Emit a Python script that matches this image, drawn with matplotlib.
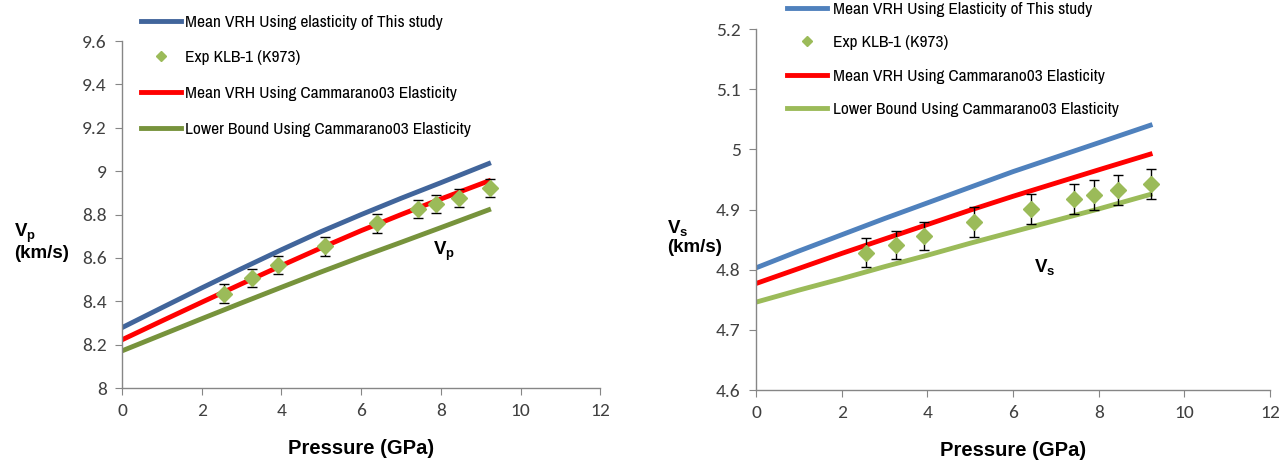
import matplotlib
matplotlib.use("Agg")
import matplotlib.pyplot as plt

# ---------------- data ----------------
p_model = [0, 1, 2, 3, 4, 5, 6, 7, 8, 9.2]
vp_blue = [8.279, 8.371, 8.462, 8.551, 8.638, 8.722, 8.800, 8.875, 8.947, 9.035]
vp_red = [8.223, 8.310, 8.396, 8.481, 8.565, 8.647, 8.726, 8.800, 8.872, 8.955]
vp_green = [8.172, 8.246, 8.320, 8.393, 8.465, 8.536, 8.605, 8.672, 8.740, 8.822]

vs_blue = [4.803, 4.831, 4.858, 4.885, 4.911, 4.937, 4.963, 4.987, 5.011, 5.040]
vs_red = [4.777, 4.802, 4.827, 4.851, 4.875, 4.899, 4.922, 4.944, 4.966, 4.992]
vs_green = [4.746, 4.766, 4.785, 4.805, 4.824, 4.844, 4.863, 4.882, 4.901, 4.925]

p_exp = [2.56, 3.27, 3.92, 5.10, 6.41, 7.42, 7.88, 8.45, 9.23]
vp_exp = [8.435, 8.507, 8.568, 8.653, 8.759, 8.826, 8.849, 8.877, 8.922]
vp_err = [0.043, 0.043, 0.043, 0.043, 0.042, 0.042, 0.042, 0.042, 0.042]
vs_exp = [4.828, 4.841, 4.856, 4.880, 4.901, 4.918, 4.924, 4.932, 4.943]
vs_err = [0.024, 0.024, 0.024, 0.025, 0.025, 0.025, 0.025, 0.025, 0.025]

labels_left = ["Mean VRH Using elasticity of This study", "Exp KLB-1 (K973)",
               "Mean VRH Using Cammarano03 Elasticity",
               "Lower Bound Using Cammarano03 Elasticity"]
labels_right = ["Mean VRH Using Elasticity of This study", "Exp KLB-1 (K973)",
                "Mean VRH Using Cammarano03 Elasticity",
                "Lower Bound Using Cammarano03 Elasticity"]

# ---------------- fonts ----------------
tickfont = ["Carlito", "DejaVu Sans"]
legfont = ["Archivo Narrow", "Carlito", "DejaVu Sans"]
bold = "Liberation Sans"

fig = plt.figure(figsize=(12.82, 4.61), dpi=100)
axL = fig.add_axes([0.0952, 0.158, 0.373, 0.753])
axR = fig.add_axes([0.5897, 0.154, 0.401, 0.783])


def style(ax, ylim, yticks, ylabels):
    ax.set_xlim(0, 12)
    ax.set_ylim(*ylim)
    ax.set_xticks(range(0, 13, 2))
    ax.set_yticks(yticks)
    ax.set_yticklabels(ylabels)
    for s in ["top", "right"]:
        ax.spines[s].set_visible(False)
    for s in ["left", "bottom"]:
        ax.spines[s].set_color("#868686")
        ax.spines[s].set_linewidth(1.0)
    ax.tick_params(axis="both", direction="out", color="#868686", length=5,
                   labelsize=14, labelcolor="#404040", pad=6)
    for t in ax.get_xticklabels() + ax.get_yticklabels():
        t.set_fontfamily(tickfont)
    ax.set_xlabel("Pressure (GPa)", fontsize=14.5, fontweight="bold",
                  fontfamily=bold, labelpad=14)


# ---- left panel ----
lb, = axL.plot(p_model, vp_blue, color="#41659b", lw=3.5)
le = axL.errorbar(p_exp, vp_exp, yerr=vp_err, fmt="D", color="#9bbb59",
                  markersize=8, ecolor="black", elinewidth=1, capsize=3.5,
                  zorder=5)
lr, = axL.plot(p_model, vp_red, color="#ff0000", lw=3.5)
lg, = axL.plot(p_model, vp_green, color="#77933c", lw=3.5)
style(axL, (8, 9.6), [8, 8.2, 8.4, 8.6, 8.8, 9, 9.2, 9.4, 9.6],
      ["8", "8.2", "8.4", "8.6", "8.8", "9", "9.2", "9.4", "9.6"])
axL.text(7.8, 8.615, "V$_\\mathregular{p}$", fontsize=13.5, fontweight="bold",
         fontfamily=bold)
fig.text(0.011, 0.475, "V$_\\mathregular{p}$\n(km/s)", fontsize=13.5,
         fontweight="bold", fontfamily=bold, ha="left", va="center",
         linespacing=1.0)
legL = axL.legend([lb, le[0], lr, lg], labels_left, loc="upper left",
                  bbox_to_anchor=(0.04, 1.076), frameon=False,
                  prop={"family": legfont, "size": 12.5}, labelspacing=1.18,
                  handlelength=2.3, handletextpad=0.25, borderaxespad=0,
                  borderpad=0, markerscale=0.6)

# ---- right panel ----
rb, = axR.plot(p_model, vs_blue, color="#4f81bd", lw=3.5)
re = axR.errorbar(p_exp, vs_exp, yerr=vs_err, fmt="D", color="#9bbb59",
                  markersize=8, ecolor="black", elinewidth=1, capsize=3.5,
                  zorder=5)
rr, = axR.plot(p_model, vs_red, color="#ff0000", lw=3.5)
rg, = axR.plot(p_model, vs_green, color="#9bbb59", lw=3.5)
style(axR, (4.6, 5.2), [4.6, 4.7, 4.8, 4.9, 5.0, 5.1, 5.2],
      ["4.6", "4.7", "4.8", "4.9", "5", "5.1", "5.2"])
axR.text(6.5, 4.795, "V$_\\mathregular{s}$", fontsize=13.5, fontweight="bold",
         fontfamily=bold)
fig.text(0.52, 0.485, "V$_\\mathregular{s}$\n(km/s)", fontsize=13.5,
         fontweight="bold", fontfamily=bold, ha="left", va="center",
         linespacing=1.0)
legR = axR.legend([rb, re[0], rr, rg], labels_right, loc="upper left",
                  bbox_to_anchor=(0.06, 1.076), frameon=False,
                  prop={"family": legfont, "size": 12.5}, labelspacing=1.06,
                  handlelength=2.3, handletextpad=0.35, borderaxespad=0,
                  borderpad=0, markerscale=0.6)

fig.savefig("out.png", dpi=100)
